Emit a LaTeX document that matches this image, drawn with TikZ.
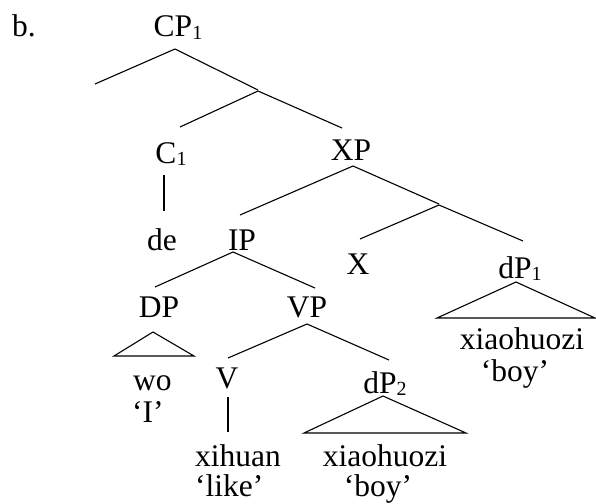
\documentclass[tikz,border=0pt]{standalone}
\usepackage{fontspec}
\setmainfont{Liberation Serif}
\newcommand\sbs[1]{\raisebox{-0.08em}{\fontsize{20}{20}\selectfont #1}}
\begin{document}
\begin{tikzpicture}[x=1pt,y=-1pt,
  lbl/.style={anchor=base,inner sep=0pt,font=\fontsize{31.5}{32}\selectfont},
  lbll/.style={anchor=base west,inner sep=0pt,font=\fontsize{31.5}{32}\selectfont},
  br/.style={line width=1.1pt}]
\useasboundingbox (0,0) rectangle (596,503);
% labels
\node[lbll] (ex) at (12,37) {b.};
\node[lbl] (cp) at (178,37) {CP\sbs{1}};
\node[lbl] (c1) at (171,163) {C\sbs{1}};
\node[lbl] (de) at (162,250) {de};
\node[lbl] (xp) at (351,160) {XP};
\node[lbl] (ip) at (242,250) {IP};
\node[lbl] (x) at (358,274) {X};
\node[lbl] (dp1) at (520,278) {dP\sbs{1}};
\node[lbl] (xh1) at (522,349) {xiaohuozi};
\node[lbl] (boy1) at (515,381) {‘boy’};
\node[lbl] (dp) at (159,317) {DP};
\node[lbl] (vp) at (307,317) {VP};
\node[lbll] (wo) at (133,390) {wo};
\node[lbll] (i) at (132,422) {‘I’};
\node[lbl] (v) at (227,388) {V};
\node[lbll] (xihuan) at (195,466) {xihuan};
\node[lbll] (like) at (195,496) {‘like’};
\node[lbl] (dp2) at (385,393) {dP\sbs{2}};
\node[lbl] (xh2) at (385,466) {xiaohuozi};
\node[lbl] (boy2) at (378,496) {‘boy’};
% branch points
\coordinate (cpA) at (175,49);
\coordinate (spec) at (95,84);
\coordinate (cbarT) at (258,90);
\coordinate (cbarA) at (258,91);
\coordinate (c1T) at (180,127);
\coordinate (xpT) at (342,128);
\coordinate (c1B) at (164,175);
\coordinate (deT) at (164,211);
\coordinate (xpA) at (353,166);
\coordinate (ipT) at (240,215);
\coordinate (xbarT) at (439,204);
\coordinate (xbarA) at (439,205);
\coordinate (xT) at (360,239);
\coordinate (dp1T) at (523,241);
\coordinate (ipA) at (233,252);
\coordinate (dpT) at (155,287);
\coordinate (vpT) at (315,288);
\coordinate (vpA) at (307,324);
\coordinate (vT) at (228,358);
\coordinate (dp2T) at (389,360);
\coordinate (vB) at (228,397);
\coordinate (xihuanT) at (228,432);
% branches
\draw[br] (spec) -- (cpA) -- (cbarT);
\draw[br] (c1T) -- (cbarA) -- (xpT);
\draw[br] (c1B) -- (deT);
\draw[br] (ipT) -- (xpA) -- (xbarT);
\draw[br] (xT) -- (xbarA) -- (dp1T);
\draw[br] (dpT) -- (ipA) -- (vpT);
\draw[br] (vT) -- (vpA) -- (dp2T);
\draw[br] (vB) -- (xihuanT);
% triangles
\draw[br] (516,282) -- (437,318) -- (595,318) -- cycle;
\draw[br] (153,332) -- (114,356) -- (194,356) -- cycle;
\draw[br] (383,396) -- (304,433) -- (466,433) -- cycle;
\end{tikzpicture}
\end{document}
